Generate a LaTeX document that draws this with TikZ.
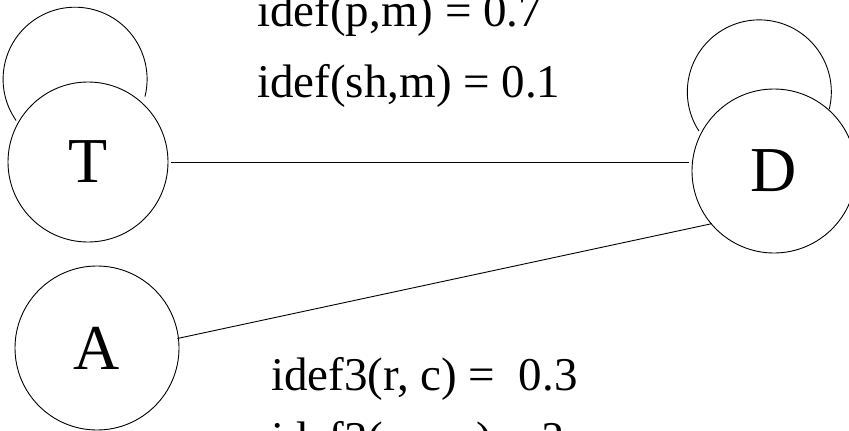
\documentclass[tikz,border=0pt]{standalone}
\usepackage{fontspec}
\setmainfont{Liberation Serif}
\usetikzlibrary{positioning}
\tikzset{
  st/.style    ={draw=black, line width=.9pt, fill=white, circle, inner sep=0pt, outer sep=3pt, font=\fontsize{64}{70}\selectfont},
  ln/.style    ={draw=black, line width=.9pt},
  selfloop/.style={draw=black, line width=.9pt},
  eq/.style    ={anchor=base west, inner sep=0pt, font=\fontsize{47}{56}\selectfont},
}
\begin{document}
\begin{tikzpicture}[x=1pt,y=-1pt]
    \useasboundingbox (0,0) rectangle (849,431);
    \clip (0,0) rectangle (849,431);
    \node[st,minimum size=160pt] (T) at (88,162) {T};
    \node[st,minimum size=164pt] (D) at (774,171) {D};
    \node[st,minimum size=164pt] (A) at (97,348) {A};

    \draw[selfloop] (T.150) arc[start angle=215, end angle=-14, radius=72pt];
    \draw[selfloop] (D.152) arc[start angle=213, end angle=-14, radius=72pt];

    \draw[ln] (T.east) -- (T.east -| D.west);
    \draw[ln,shorten <=-4pt,shorten >=-4pt] (A.7) -- (D.219);

    \node[eq] (pm)  at (257,26)  {idef(p,m) = 0.7};
    \node[eq] (shm) at (257,97)  {idef(sh,m) = 0.1};
    \node[eq] (rc)  at (271,390) {idef3(r, c) = ~0.3};
    \node[eq] (swc) at (271,454) {idef3(sw, c) = ?};
  \end{tikzpicture}
\end{document}
